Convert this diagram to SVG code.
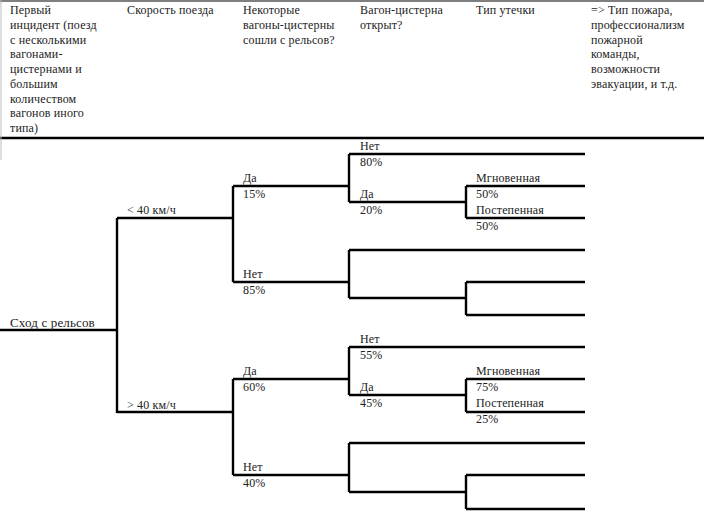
<svg xmlns="http://www.w3.org/2000/svg" width="704" height="521" viewBox="0 0 704 521">
<style>
text{font-family:"Liberation Serif","Times New Roman",serif;font-size:12px;letter-spacing:0.15px;fill:#222}
.c path{fill:none;stroke:#000;stroke-width:2.4}
</style>
<rect width="704" height="521" fill="#fff"/>
<g id="header">
<line x1="0" y1="1" x2="704" y2="1" stroke="#000" stroke-width="1.2"/>
<line x1="0" y1="138" x2="704" y2="138" stroke="#000" stroke-width="2.4"/>
<line x1="1" y1="0" x2="1" y2="160" stroke="#bbb" stroke-width="1"/>
<text x="10" y="14">Первый</text><text x="10" y="29">инцидент (поезд</text><text x="10" y="44">с несколькими</text><text x="10" y="58">вагонами-</text><text x="10" y="73">цистернами  и</text><text x="10" y="88">большим</text><text x="10" y="103">количеством</text><text x="10" y="117">вагонов иного</text><text x="10" y="132">типа)</text>
<text x="127" y="14">Скорость поезда</text>
<text x="243" y="14">Некоторые</text><text x="243" y="29">вагоны-цистерны</text><text x="243" y="44">сошли с рельсов?</text>
<text x="360" y="14">Вагон-цистерна</text><text x="360" y="29">открыт?</text>
<text x="476" y="14">Тип утечки</text>
<text x="591" y="14">=&gt; Тип пожара,</text><text x="591" y="29">профессионализм</text><text x="591" y="44">пожарной</text><text x="591" y="58">команды,</text><text x="591" y="73">возможности</text><text x="591" y="88">эвакуации,  и т.д.</text>
</g>
<g id="connectors" class="c">
<path d="M0 330H117M117 218V413M117 218H233M117 412H233"/>
<path d="M233 186V282M233 186H349M233 282H349"/>
<path d="M349 154V202M349 154H585M349 202H466M466 186V218M466 186H585M466 218H585"/>
<path d="M349 250V298M349 250H585M349 298H466M466 282V315M466 282H585M466 315H585"/>
<path d="M233 379V475M233 379H349M233 475H349"/>
<path d="M349 347V395M349 347H585M349 395H466M466 379V412M466 379H585M466 412H585"/>
<path d="M349 443V492M349 443H585M349 492H466M466 475V509M466 475H585M466 509H585"/>
</g>
<g id="labels">
<text x="10" y="327" style="font-size:13px">Сход с рельсов</text>
<text x="127" y="214">&lt; 40 км/ч</text>
<text x="127" y="409">&gt; 40 км/ч</text>
<text x="243" y="182">Да</text><text x="243" y="198">15%</text>
<text x="243" y="278">Нет</text><text x="243" y="294">85%</text>
<text x="243" y="375">Да</text><text x="243" y="391">60%</text>
<text x="243" y="471">Нет</text><text x="243" y="487">40%</text>
<text x="360" y="150">Нет</text><text x="360" y="166">80%</text>
<text x="360" y="198">Да</text><text x="360" y="214">20%</text>
<text x="360" y="343">Нет</text><text x="360" y="359">55%</text>
<text x="360" y="391">Да</text><text x="360" y="407">45%</text>
<text x="476" y="182">Мгновенная</text><text x="476" y="198">50%</text>
<text x="476" y="214">Постепенная</text><text x="476" y="230">50%</text>
<text x="476" y="375">Мгновенная</text><text x="476" y="391">75%</text>
<text x="476" y="407">Постепенная</text><text x="476" y="423">25%</text>
</g>
</svg>
